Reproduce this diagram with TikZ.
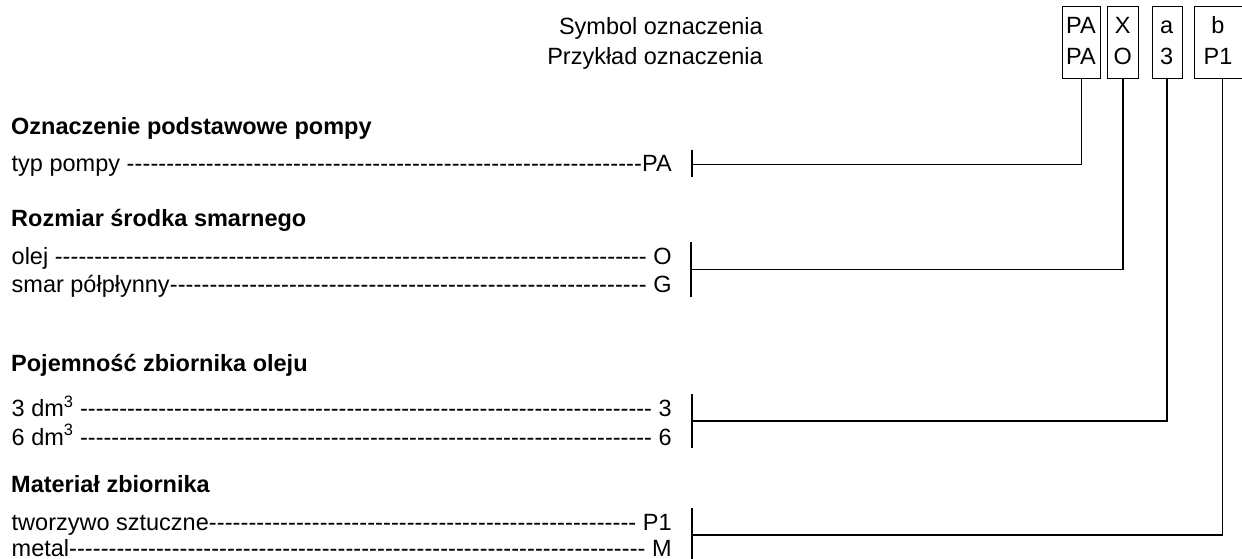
\documentclass[tikz,border=0pt]{standalone}
\usepackage{fontspec}
\setmainfont{Liberation Sans}
\newcommand{\dashrow}[2]{\hbox to 660pt{#1\xleaders\hbox{-}\hfill #2}}
\begin{document}
\begin{tikzpicture}[x=1pt,y=-1pt,
  font=\fontsize{23.5}{28}\selectfont,
  txt/.style={inner sep=0pt, anchor=base west},
  head/.style={txt, font=\fontsize{23.5}{28}\selectfont\bfseries},
  boxtxt/.style={inner sep=0pt, anchor=base},
  codebox/.style={draw, line width=1pt, inner sep=0pt, anchor=north west},
  link/.style={line width=1.5pt},
  tickln/.style={line width=2pt}]
\useasboundingbox (0,0) rectangle (1242,559);
\clip (0,0) rectangle (1242,559);
% header texts
\node[inner sep=0pt, anchor=base east] (sym) at (763,35) {Symbol oznaczenia};
\node[inner sep=0pt, anchor=base east] (prz) at (763,65) {Przykład oznaczenia};
% boxes
\node[codebox, minimum width=37.7pt, minimum height=72.6pt] (bPA) at (1062.3,5.7) {};
\node[codebox, minimum width=30.7pt, minimum height=72.6pt] (bX) at (1107.3,5.7) {};
\node[codebox, minimum width=30pt, minimum height=72.6pt] (ba) at (1151.7,5.7) {};
\node[codebox, minimum width=56pt, minimum height=72.6pt] (bb) at (1194.3,5.7) {};
\coordinate (bbs) at (1222.3,78.3);
% box texts
\node[boxtxt] (s1) at (1081,33.3) {PA};
\node[boxtxt] (e1) at (1081,65) {PA};
\node[boxtxt] (s2) at (1122.7,33.3) {X};
\node[boxtxt] (e2) at (1122.7,65) {O};
\node[boxtxt] (s3) at (1166.7,33.3) {a};
\node[boxtxt] (e3) at (1166.7,65) {3};
\node[boxtxt] (s4) at (1218,33.3) {b};
\node[boxtxt] (e4) at (1218,65) {P1};
% headings
\node[head] (h1) at (11,135) {Oznaczenie podstawowe pompy};
\node[head] (h2) at (11,226.7) {Rozmiar środka smarnego};
\node[head] (h3) at (11,371.7) {Pojemność zbiornika oleju};
\node[head] (h4) at (11,492.7) {Materiał zbiornika};
% rows
\node[txt] (r1) at (11.5,171.7) {\dashrow{typ pompy }{PA}};
\node[txt] (r2) at (11.5,264) {\dashrow{olej }{ O}};
\node[txt] (r3) at (11.5,292) {\dashrow{smar półpłynny}{ G}};
\node[txt] (r4) at (11.5,416.7) {\dashrow{3 dm\textsuperscript{3} }{ 3}};
\node[txt] (r5) at (11.5,445) {\dashrow{6 dm\textsuperscript{3} }{ 6}};
\node[txt] (r6) at (11.5,530.7) {\dashrow{tworzywo sztuczne}{ P1}};
\node[txt] (r7) at (11.5,556) {\dashrow{metal}{ M}};
% ticks
\coordinate (t1) at (691.7,164.3);
\coordinate (t2) at (691.3,269.3);
\coordinate (t3) at (692,421);
\coordinate (t4) at (692,535);
\draw[tickln] (691.7,150) -- (691.7,177.3);
\draw[tickln] (691.3,242.3) -- (691.3,296.7);
\draw[tickln] (692,394) -- (692,448.3);
\draw[tickln] (692,508.3) -- (692,562);
% connectors
\draw[link] (t1) -| (bPA.south);
\draw[link] (t2) -| (bX.south);
\draw[link] (t3) -| (ba.south);
\draw[link] (t4) -| (bbs);
\end{tikzpicture}
\end{document}
